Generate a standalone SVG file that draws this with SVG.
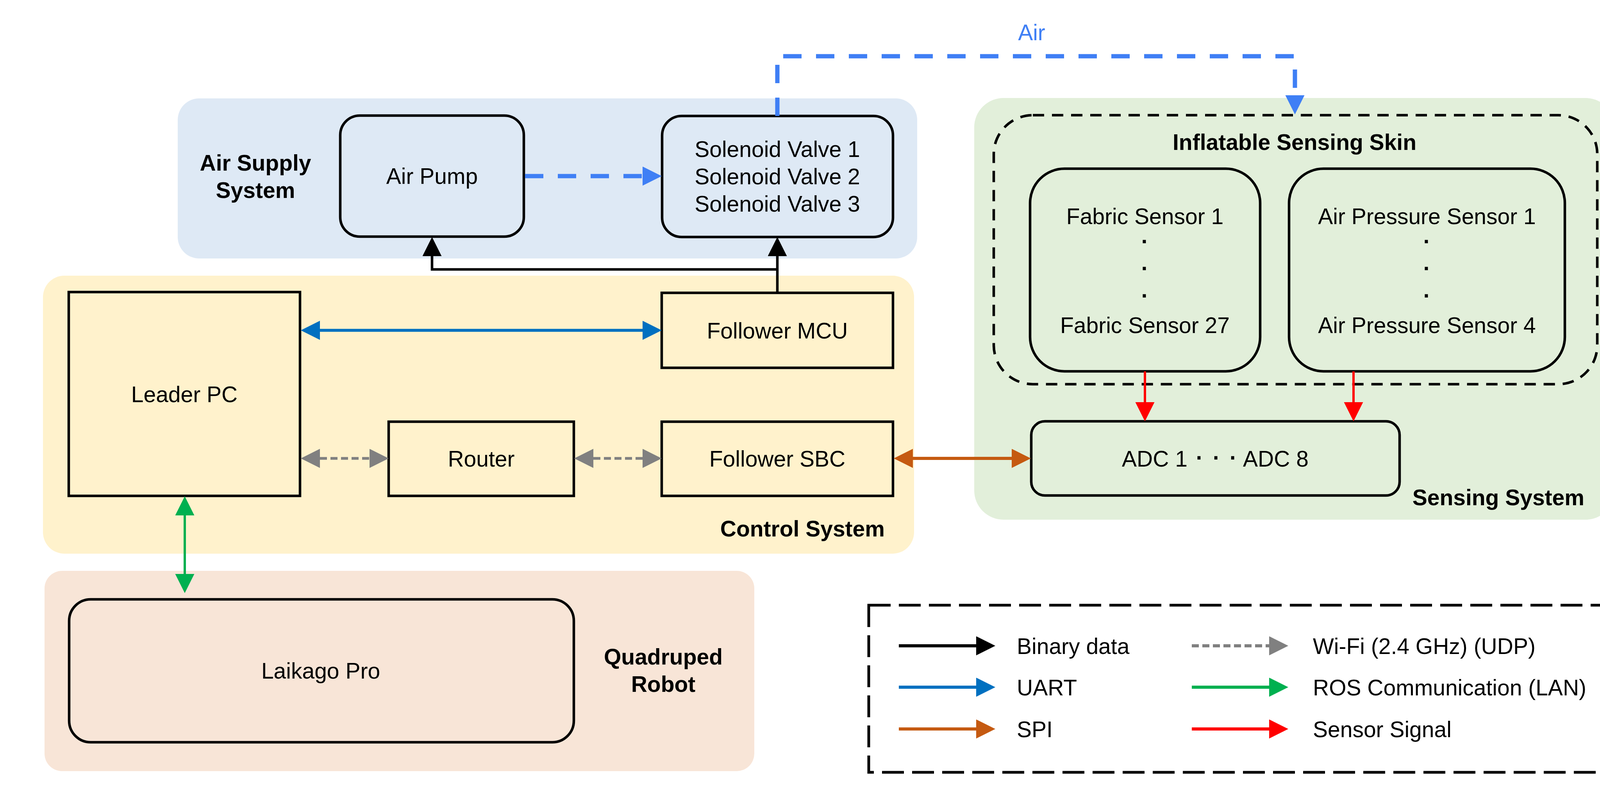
<svg xmlns="http://www.w3.org/2000/svg" width="4252" height="2031" viewBox="0 0 4252 2031">
<style>
text{font-family:"Liberation Sans",Arial,sans-serif;font-size:57px;fill:#000}
.b{font-weight:bold}
.c{text-anchor:middle}
.r{text-anchor:end}
.dot{font-size:82px}
.vd{font-weight:bold}
.node{fill:none;stroke:#000;stroke-width:6.5}
.bg{stroke:none}
.conn{fill:none}
</style>
<defs>
<marker id="mAir" markerUnits="userSpaceOnUse" markerWidth="50" markerHeight="50" refX="0" refY="24.5" orient="auto-start-reverse"><path d="M0,0 L49,24.5 L0,49 Z" fill="#3f7ff5"/></marker>
<marker id="mBlk" markerUnits="userSpaceOnUse" markerWidth="50" markerHeight="50" refX="0" refY="24.5" orient="auto-start-reverse"><path d="M0,0 L49,24.5 L0,49 Z" fill="#000"/></marker>
<marker id="mUart" markerUnits="userSpaceOnUse" markerWidth="50" markerHeight="50" refX="0" refY="24.5" orient="auto-start-reverse"><path d="M0,0 L49,24.5 L0,49 Z" fill="#0070c0"/></marker>
<marker id="mGray" markerUnits="userSpaceOnUse" markerWidth="50" markerHeight="50" refX="0" refY="24.5" orient="auto-start-reverse"><path d="M0,0 L49,24.5 L0,49 Z" fill="#808080"/></marker>
<marker id="mSpi" markerUnits="userSpaceOnUse" markerWidth="50" markerHeight="50" refX="0" refY="24.5" orient="auto-start-reverse"><path d="M0,0 L49,24.5 L0,49 Z" fill="#c55a11"/></marker>
<marker id="mRos" markerUnits="userSpaceOnUse" markerWidth="50" markerHeight="50" refX="0" refY="24.5" orient="auto-start-reverse"><path d="M0,0 L49,24.5 L0,49 Z" fill="#00b050"/></marker>
<marker id="mRed" markerUnits="userSpaceOnUse" markerWidth="50" markerHeight="50" refX="0" refY="24.5" orient="auto-start-reverse"><path d="M0,0 L49,24.5 L0,49 Z" fill="#ff0000"/></marker>
</defs>
<rect width="4252" height="2031" fill="#fff"/>

<g id="air-supply-system">
<rect class="bg" x="455" y="252" width="1893" height="410" rx="55" fill="#dee9f5"/>
<text class="b c" x="654" y="437">Air Supply</text>
<text class="b c" x="654" y="507">System</text>
</g>
<g id="control-system">
<rect class="bg" x="110" y="706" width="2230" height="712" rx="55" fill="#fff2cc"/>
<text class="b r" x="2265" y="1374">Control System</text>
</g>
<g id="sensing-system">
<rect class="bg" x="2494" y="251" width="1640" height="1080" rx="75" fill="#e2efda"/>
<text class="b r" x="4056" y="1294">Sensing System</text>
</g>
<g id="quadruped-robot">
<rect class="bg" x="114" y="1462" width="1817" height="513" rx="45" fill="#f8e5d7"/>
<text class="b c" x="1698" y="1702">Quadruped</text>
<text class="b c" x="1698" y="1772">Robot</text>
</g>

<g id="air-pump">
<rect class="node" x="871" y="296" width="470" height="310" rx="50"/>
<text class="c" x="1106" y="471">Air Pump</text>
</g>
<g id="solenoid-valves">
<rect class="node" x="1695" y="297" width="591" height="310" rx="50"/>
<text class="c" x="1990" y="402">Solenoid Valve 1</text>
<text class="c" x="1990" y="472">Solenoid Valve 2</text>
<text class="c" x="1990" y="542">Solenoid Valve 3</text>
</g>
<g id="leader-pc">
<rect class="node" x="176" y="748" width="592" height="522"/>
<text class="c" x="472" y="1030">Leader PC</text>
</g>
<g id="follower-mcu">
<rect class="node" x="1694" y="750" width="592" height="192"/>
<text class="c" x="1990" y="867">Follower MCU</text>
</g>
<g id="router">
<rect class="node" x="995" y="1080" width="474" height="190"/>
<text class="c" x="1232" y="1195">Router</text>
</g>
<g id="follower-sbc">
<rect class="node" x="1694" y="1080" width="592" height="190"/>
<text class="c" x="1990" y="1195">Follower SBC</text>
</g>
<g id="inflatable-sensing-skin">
<rect x="2544" y="295" width="1545" height="689" rx="100" fill="none" stroke="#000" stroke-width="6.5" stroke-dasharray="29 20"/>
<text class="b c" x="3314" y="384">Inflatable Sensing Skin</text>
</g>
<g id="fabric-sensors">
<rect class="node" x="2637" y="432" width="589" height="519" rx="88"/>
<text class="c" x="2931" y="574">Fabric Sensor 1</text>
<text class="c vd" x="2931" y="638">·</text>
<text class="c vd" x="2931" y="707">·</text>
<text class="c vd" x="2931" y="777">·</text>
<text class="c" x="2931" y="853">Fabric Sensor 27</text>
</g>
<g id="air-pressure-sensors">
<rect class="node" x="3300" y="432" width="706" height="519" rx="88"/>
<text class="c" x="3653" y="574">Air Pressure Sensor 1</text>
<text class="c vd" x="3653" y="638">·</text>
<text class="c vd" x="3653" y="707">·</text>
<text class="c vd" x="3653" y="777">·</text>
<text class="c" x="3653" y="853">Air Pressure Sensor 4</text>
</g>
<g id="adc">
<rect class="node" x="2640" y="1079" width="943" height="190" rx="35"/>
<text class="c" x="3111" y="1195">ADC 1 <tspan class="dot">·</tspan> <tspan class="dot">·</tspan> <tspan class="dot">·</tspan> ADC 8</text>
</g>
<g id="laikago-pro">
<rect class="node" x="177" y="1535" width="1292" height="366" rx="55"/>
<text class="c" x="821" y="1738">Laikago Pro</text>
</g>

<g id="connectors">
<path class="conn" d="M1990,297 V144 H3315 V244" stroke="#3f7ff5" stroke-width="11" stroke-dasharray="47 37" marker-end="url(#mAir)"/>
<text x="2641" y="103" class="c" style="fill:#3f7ff5">Air</text>
<path class="conn" d="M1344,451 H1645" stroke="#3f7ff5" stroke-width="11" stroke-dasharray="47 37" marker-end="url(#mAir)"/>
<path class="conn" d="M1990,750 V656" stroke="#000" stroke-width="6.5" marker-end="url(#mBlk)"/>
<path class="conn" d="M1990,690 H1106 V656" stroke="#000" stroke-width="6.5" marker-end="url(#mBlk)"/>
<path class="conn" d="M819,846 H1645" stroke="#0070c0" stroke-width="7.5" marker-start="url(#mUart)" marker-end="url(#mUart)"/>
<path class="conn" d="M819,1174 H946" stroke="#808080" stroke-width="7" stroke-dasharray="18 9" marker-start="url(#mGray)" marker-end="url(#mGray)"/>
<path class="conn" d="M1519,1174 H1645" stroke="#808080" stroke-width="7" stroke-dasharray="18 9" marker-start="url(#mGray)" marker-end="url(#mGray)"/>
<path class="conn" d="M2337,1174 H2590" stroke="#c55a11" stroke-width="8" marker-start="url(#mSpi)" marker-end="url(#mSpi)"/>
<path class="conn" d="M473,1320 V1470" stroke="#00b050" stroke-width="6" marker-start="url(#mRos)" marker-end="url(#mRos)"/>
<path class="conn" d="M2931,951 V1030" stroke="#ff0000" stroke-width="6" marker-end="url(#mRed)"/>
<path class="conn" d="M3465,951 V1030" stroke="#ff0000" stroke-width="6" marker-end="url(#mRed)"/>
</g>

<g id="legend">
<rect x="2224" y="1550" width="1910" height="428" fill="none" stroke="#000" stroke-width="7" stroke-dasharray="56 21"/>
<path class="conn" d="M2301,1654 H2499" stroke="#000" stroke-width="8" marker-end="url(#mBlk)"/>
<text x="2603" y="1675">Binary data</text>
<path class="conn" d="M2301,1760 H2499" stroke="#0070c0" stroke-width="8" marker-end="url(#mUart)"/>
<text x="2603" y="1781">UART</text>
<path class="conn" d="M2301,1867 H2499" stroke="#c55a11" stroke-width="8" marker-end="url(#mSpi)"/>
<text x="2603" y="1888">SPI</text>
<path class="conn" d="M3051,1654 H3249" stroke="#808080" stroke-width="8" stroke-dasharray="18 9" marker-end="url(#mGray)"/>
<text x="3361" y="1675">Wi-Fi (2.4 GHz) (UDP)</text>
<path class="conn" d="M3051,1760 H3249" stroke="#00b050" stroke-width="8" marker-end="url(#mRos)"/>
<text x="3361" y="1781">ROS Communication (LAN)</text>
<path class="conn" d="M3051,1867 H3249" stroke="#ff0000" stroke-width="8" marker-end="url(#mRed)"/>
<text x="3361" y="1888">Sensor Signal</text>
</g>
</svg>
